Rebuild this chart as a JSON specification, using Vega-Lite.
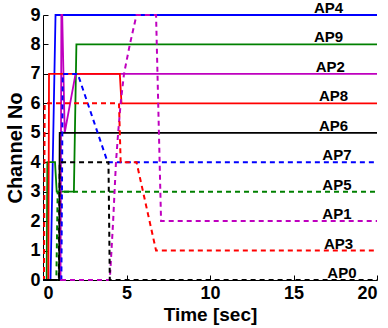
{
  "$schema": "https://vega.github.io/schema/vega-lite/v6.json",
  "width": 334,
  "height": 265,
  "autosize": {"type": "none"},
  "padding": {"left": 43, "top": 15, "right": 11, "bottom": 48},
  "background": "white",
  "config": {
    "view": {"stroke": null},
    "font": "Liberation Sans",
    "axis": {
      "grid": false,
      "domainColor": "black",
      "domainWidth": 1,
      "tickColor": "black",
      "tickSize": -5,
      "labelFont": "Liberation Sans",
      "labelFontSize": 18,
      "labelFontWeight": "bold",
      "labelColor": "black",
      "titleFont": "Liberation Sans",
      "titleFontWeight": "bold",
      "titleColor": "black"
    }
  },
  "datasets": {
    "solid": [
      {"s": "AP4", "t": 0, "v": 0}, {"s": "AP4", "t": 0.45, "v": 0}, {"s": "AP4", "t": 0.75, "v": 9}, {"s": "AP4", "t": 20, "v": 9},
      {"s": "AP9", "t": 0, "v": 0}, {"s": "AP9", "t": 0.22, "v": 0}, {"s": "AP9", "t": 0.26, "v": 4}, {"s": "AP9", "t": 0.72, "v": 4}, {"s": "AP9", "t": 0.82, "v": 3}, {"s": "AP9", "t": 1.85, "v": 3}, {"s": "AP9", "t": 2.0, "v": 8}, {"s": "AP9", "t": 20, "v": 8},
      {"s": "AP2", "t": 0, "v": 0}, {"s": "AP2", "t": 1.05, "v": 0}, {"s": "AP2", "t": 1.1, "v": 9}, {"s": "AP2", "t": 1.15, "v": 9}, {"s": "AP2", "t": 1.3, "v": 5}, {"s": "AP2", "t": 1.95, "v": 7}, {"s": "AP2", "t": 20, "v": 7},
      {"s": "AP8", "t": 0, "v": 0}, {"s": "AP8", "t": 0.32, "v": 0}, {"s": "AP8", "t": 0.36, "v": 7}, {"s": "AP8", "t": 4.6, "v": 7}, {"s": "AP8", "t": 4.7, "v": 6}, {"s": "AP8", "t": 20, "v": 6},
      {"s": "AP6", "t": 0, "v": 0}, {"s": "AP6", "t": 0.96, "v": 0}, {"s": "AP6", "t": 1.0, "v": 5}, {"s": "AP6", "t": 20, "v": 5}
    ],
    "dashed": [
      {"s": "AP7", "t": 0, "v": 0}, {"s": "AP7", "t": 1.1, "v": 0}, {"s": "AP7", "t": 1.18, "v": 7}, {"s": "AP7", "t": 2.08, "v": 7}, {"s": "AP7", "t": 3.87, "v": 4}, {"s": "AP7", "t": 20, "v": 4},
      {"s": "AP5", "t": 0, "v": 0}, {"s": "AP5", "t": 0.8, "v": 0}, {"s": "AP5", "t": 0.88, "v": 3}, {"s": "AP5", "t": 20, "v": 3},
      {"s": "AP1", "t": 0, "v": 0}, {"s": "AP1", "t": 4.0, "v": 0}, {"s": "AP1", "t": 4.2, "v": 2}, {"s": "AP1", "t": 4.37, "v": 4}, {"s": "AP1", "t": 4.5, "v": 5}, {"s": "AP1", "t": 4.65, "v": 6}, {"s": "AP1", "t": 4.85, "v": 7}, {"s": "AP1", "t": 5.2, "v": 8}, {"s": "AP1", "t": 5.6, "v": 9}, {"s": "AP1", "t": 6.77, "v": 9}, {"s": "AP1", "t": 7.07, "v": 2}, {"s": "AP1", "t": 20, "v": 2},
      {"s": "AP3", "t": 0, "v": 0}, {"s": "AP3", "t": 0.06, "v": 0}, {"s": "AP3", "t": 0.1, "v": 6}, {"s": "AP3", "t": 4.55, "v": 6}, {"s": "AP3", "t": 4.65, "v": 4}, {"s": "AP3", "t": 5.6, "v": 4}, {"s": "AP3", "t": 6.77, "v": 1}, {"s": "AP3", "t": 20, "v": 1},
      {"s": "AP0", "t": 0, "v": 0}, {"s": "AP0", "t": 0.95, "v": 0}, {"s": "AP0", "t": 1.0, "v": 4}, {"s": "AP0", "t": 3.92, "v": 4}, {"s": "AP0", "t": 4.0, "v": 0}, {"s": "AP0", "t": 20, "v": 0}
    ],
    "labels": [
      {"s": "AP4", "t": 17.1, "v": 9},
      {"s": "AP9", "t": 17.1, "v": 8},
      {"s": "AP2", "t": 17.2, "v": 7},
      {"s": "AP8", "t": 17.4, "v": 6},
      {"s": "AP6", "t": 17.4, "v": 5},
      {"s": "AP7", "t": 17.6, "v": 4},
      {"s": "AP5", "t": 17.6, "v": 3},
      {"s": "AP1", "t": 17.6, "v": 2},
      {"s": "AP3", "t": 17.7, "v": 1},
      {"s": "AP0", "t": 17.9, "v": 0}
    ]
  },
  "encoding": {
    "x": {"field": "t", "type": "quantitative",
      "scale": {"domain": [0, 20], "nice": false, "zero": false},
      "axis": {"values": [0, 5, 10, 15, 20], "title": "Time [sec]", "titleFontSize": 19, "labelPadding": 9, "titlePadding": 3}},
    "y": {"field": "v", "type": "quantitative",
      "scale": {"domain": [0, 9], "nice": false},
      "axis": {"values": [0, 1, 2, 3, 4, 5, 6, 7, 8, 9], "title": "Channel No", "titleFontSize": 20, "labelPadding": 8, "titlePadding": 4}}
  },
  "layer": [
    {
      "data": {"name": "solid"},
      "mark": {"type": "line", "strokeWidth": 1.8, "clip": false},
      "encoding": {
        "color": {"field": "s", "type": "nominal", "legend": null,
          "scale": {"domain": ["AP0", "AP1", "AP2", "AP3", "AP4", "AP5", "AP6", "AP7", "AP8", "AP9"],
            "range": ["#000000", "#bf00bf", "#bf00bf", "#ff0000", "#0000ff", "#008000", "#000000", "#0000ff", "#ff0000", "#008000"]}}
      }
    },
    {
      "data": {"name": "dashed"},
      "mark": {"type": "line", "strokeWidth": 2, "strokeDash": [5, 4], "clip": false},
      "encoding": {
        "color": {"field": "s", "type": "nominal", "legend": null}
      }
    },
    {
      "data": {"name": "labels"},
      "mark": {"type": "text", "font": "Liberation Sans", "fontWeight": "bold", "fontSize": 15, "color": "black", "align": "center", "baseline": "alphabetic", "dy": -2},
      "encoding": {"text": {"field": "s", "type": "nominal"}}
    }
  ]
}
